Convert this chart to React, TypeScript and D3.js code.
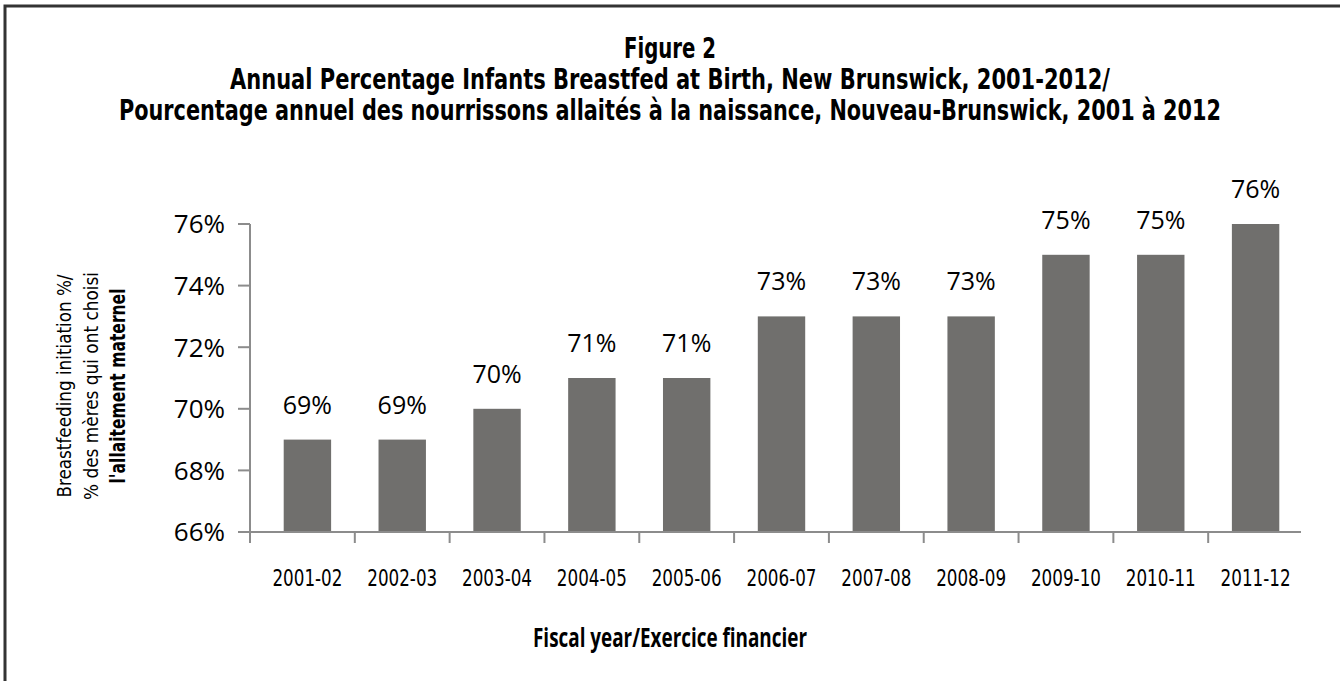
import React from 'react';
import * as d3 from 'd3';

const years = ['2001-02', '2002-03', '2003-04', '2004-05', '2005-06', '2006-07', '2007-08', '2008-09', '2009-10', '2010-11', '2011-12'];
const values = [69, 69, 70, 71, 71, 73, 73, 73, 75, 75, 76];
const yTicks = [66, 68, 70, 72, 74, 76];
const titleLines = [
  'Figure 2',
  'Annual Percentage Infants Breastfed at Birth,  New Brunswick, 2001-2012/',
  'Pourcentage annuel des nourrissons allaités à la naissance, Nouveau-Brunswick, 2001 à 2012',
];
const yTitleLines = ['Breastfeeding initiation %/', '% des mères qui ont choisi', "l'allaitement  maternel"];
const xTitle = 'Fiscal year/Exercice financier';

const W = 1340;
const H = 681;
const narrow = "'Liberation Sans Narrow', 'DejaVu Sans Condensed', sans-serif";
const plain = "'Open Sans', 'Noto Sans', sans-serif";

const titleLens = [92, 880, 1102];
const yTitleLens = [223, 228, 195];

const App = () => {
  const axisX = 250;
  const y = d3.scaleLinear().domain([66, 76]).range([532, 224]);
  const x = d3.scaleBand<string>().domain(years).range([260, 1303]);
  const bw = x.bandwidth() * 0.5;
  const axisColor = '#8c8c8c';

  return (
    <svg width={W} height={H} style={{ position: 'absolute', left: 0, top: 0, background: '#fff' }}>
      {/* frame */}
      <path d={`M5,${H + 5} V6 H${W + 5}`} fill="none" stroke="#333" strokeWidth={3} />

      {/* titles: smaller face stretched vertically to mimic a tall condensed bold */}
      <g fontFamily={narrow} fontWeight="bold" textAnchor="middle" fill="#000" fontSize={23}>
        {titleLines.map((l, i) => (
          <text key={i} transform={`translate(670,${58 + i * 31}) scale(1,1.25)`}
            textLength={titleLens[i]} lengthAdjust="spacingAndGlyphs">{l}</text>
        ))}
      </g>

      {/* y axis */}
      <line x1={axisX} x2={axisX} y1={y(76)} y2={543} stroke={axisColor} strokeWidth={2} />
      {yTicks.map(t => (
        <g key={t}>
          <line x1={238} x2={axisX} y1={y(t)} y2={y(t)} stroke={axisColor} strokeWidth={2} />
          <text x={225} y={y(t)} dy="0.36em" textAnchor="end" fontFamily={plain} fontSize={26} fill="#000">{t}%</text>
        </g>
      ))}

      {/* bars */}
      {years.map((yr, i) => {
        const cx = (x(yr) as number) + x.bandwidth() / 2;
        return (
          <g key={yr}>
            <rect x={cx - bw / 2} y={y(values[i])} width={bw} height={y(66) - y(values[i])} fill="#706f6d" />
            <text x={cx} y={y(values[i]) - 26} textAnchor="middle" fontFamily={plain} fontSize={25} fill="#000">{values[i]}%</text>
            <text x={cx} y={586} textAnchor="middle" fontFamily={narrow} fontSize={23} fill="#000"
              textLength={70} lengthAdjust="spacingAndGlyphs">{yr}</text>
          </g>
        );
      })}

      {/* x axis */}
      <line x1={238} x2={1301} y1={y(66)} y2={y(66)} stroke={axisColor} strokeWidth={2} />
      {years.slice(1).map(yr => (
        <line key={yr} x1={x(yr) as number} x2={x(yr) as number} y1={y(66)} y2={543} stroke={axisColor} strokeWidth={2} />
      ))}

      {/* axis titles */}
      <text x={670} y={647} textAnchor="middle" fontFamily={plain} fontWeight="bold" fontSize={27} fill="#000"
        textLength={274} lengthAdjust="spacingAndGlyphs">{xTitle}</text>
      <g transform="translate(0,386)">
        {yTitleLines.map((l, i) => (
          <text key={i} transform={`translate(${71 + i * 27},0) rotate(-90)`} textAnchor="middle"
            fontFamily={narrow} fontWeight={i === 2 ? 'bold' : 'normal'} fontSize={i === 2 ? 21 : 20} fill="#000"
            textLength={yTitleLens[i]} lengthAdjust="spacingAndGlyphs">{l}</text>
        ))}
      </g>
    </svg>
  );
};

export default App;
